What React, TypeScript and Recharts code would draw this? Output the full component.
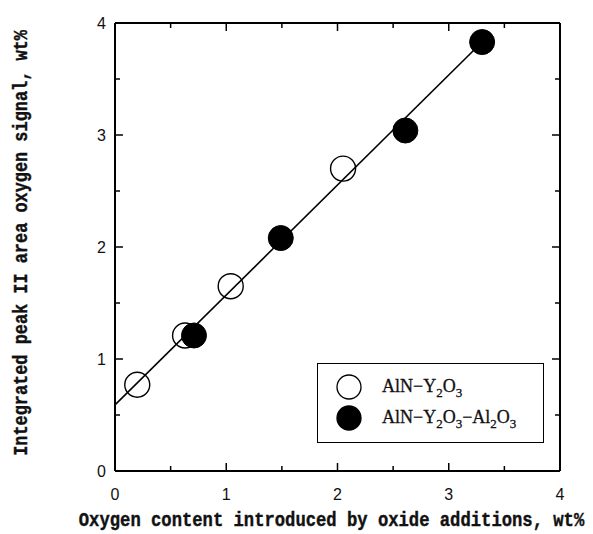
import React from 'react';
import { ScatterChart, Scatter, XAxis, YAxis, ReferenceLine, Legend } from 'recharts';

// ---- data ----
const openX = [0.2, 0.63, 1.04, 2.05];
const openY = [0.77, 1.21, 1.65, 2.7];
const filledX = [0.71, 1.49, 2.61, 3.3];
const filledY = [1.21, 2.08, 3.04, 3.83];
const fitX = [0, 3.3];
const fitY = [0.59, 3.83];
const xTicks = [0, 0.5, 1, 1.5, 2, 2.5, 3, 3.5, 4];
const yTicks = [0, 0.5, 1, 1.5, 2, 2.5, 3, 3.5, 4];
const seriesNames = ['AlN−Y2O3', 'AlN−Y2O3−Al2O3'];
const xTitle = 'Oxygen content introduced by oxide additions, wt%';
const yTitle = 'Integrated peak II area oxygen signal, wt%';

const openData = openX.map((x, i) => ({ x, y: openY[i] }));
const filledData = filledX.map((x, i) => ({ x, y: filledY[i] }));

const MONO = '"Liberation Mono", "Courier New", monospace';
const SANS = '"Liberation Sans", Arial, sans-serif';
const SERIF = '"Liberation Serif", "Times New Roman", serif';

const makeTick = (side: string) => (props: any) => {
  const { x, y, payload } = props;
  const v = payload.value;
  const major = Number.isInteger(v);
  const len = major ? 8 : 5;
  let line: any = null;
  let label: any = null;
  if (side === 'bottom') {
    line = <line x1={x} y1={y} x2={x} y2={y - len} stroke="#000" strokeWidth={1.5} />;
    if (major)
      label = (
        <text x={x} y={y + 29} textAnchor="middle" fontFamily={SANS} fontSize={16} fill="#111">
          {v}
        </text>
      );
  } else if (side === 'top') {
    line = <line x1={x} y1={y} x2={x} y2={y + len} stroke="#000" strokeWidth={1.5} />;
  } else if (side === 'left') {
    line = <line x1={x} y1={y} x2={x + len} y2={y} stroke="#000" strokeWidth={1.5} />;
    if (major)
      label = (
        <text x={x - 9} y={y + 6} textAnchor="end" fontFamily={SANS} fontSize={16} fill="#111">
          {v}
        </text>
      );
  } else {
    line = <line x1={x} y1={y} x2={x - len} y2={y} stroke="#000" strokeWidth={1.5} />;
  }
  return (
    <g>
      {line}
      {label}
    </g>
  );
};

const XTitle = (props: any) => {
  const vb = props.viewBox || { x: 115, y: 471, width: 445, height: 40 };
  const cx = vb.x + vb.width / 2 - 6;
  const cy = vb.y + 55;
  return (
    <text
      x={0}
      y={0}
      transform={`translate(${cx} ${cy}) scale(1 1.2)`}
      textAnchor="middle"
      fontFamily={MONO}
      fontWeight="bold"
      fontSize={17.2}
      fill="#111"
      stroke="#111"
      strokeWidth={0.35}
    >
      {xTitle}
    </text>
  );
};

const YTitle = (props: any) => {
  const vb = props.viewBox || { x: 55, y: 23, width: 60, height: 448 };
  const cx = 27;
  const cy = vb.y + vb.height / 2 - 4;
  return (
    <text
      x={0}
      y={0}
      transform={`translate(${cx} ${cy}) rotate(-90) scale(1 1.2)`}
      textAnchor="middle"
      fontFamily={MONO}
      fontWeight="bold"
      fontSize={16.9}
      fill="#111"
      stroke="#111"
      strokeWidth={0.35}
    >
      {yTitle}
    </text>
  );
};

const Chem = ({ s }: { s: string }) => {
  const parts = s.split(/(\d)/).filter((p) => p.length > 0);
  return (
    <span>
      {parts.map((p, i) =>
        /\d/.test(p) ? (
          <span key={i} style={{ fontSize: 13, position: 'relative', top: 5 }}>
            {p}
          </span>
        ) : (
          <span key={i}>{p}</span>
        )
      )}
    </span>
  );
};

const LegendBox = () => (
  <div
    style={{
      width: 227,
      height: 80,
      border: '1.5px solid #000',
      background: '#fff',
      boxSizing: 'border-box',
      position: 'relative',
      fontFamily: SERIF,
      fontSize: 18,
      color: '#111',
      WebkitTextStroke: '0.3px #111',
    }}
  >
    {seriesNames.map((name, i) => (
      <div key={name} style={{ position: 'absolute', left: 0, top: 10 + i * 31, height: 26, width: 227 }}>
        <svg width={28} height={28} style={{ position: 'absolute', left: 17, top: -1 }}>
          <circle cx={14} cy={14} r={12} fill={i === 0 ? '#fff' : '#000'} stroke="#000" strokeWidth={1.3} />
        </svg>
        <div style={{ position: 'absolute', left: 64, top: 1, whiteSpace: 'nowrap', lineHeight: '22px' }}>
          <Chem s={name} />
        </div>
      </div>
    ))}
  </div>
);

export default function App() {
  return (
    <div style={{ position: 'absolute', left: 0, top: 0, width: 593, height: 534, background: '#fff' }}>
      <ScatterChart width={593} height={534} margin={{ top: 21, right: 31, bottom: 23, left: 55 }}>
        <XAxis
          xAxisId="b"
          dataKey="x"
          type="number"
          domain={[0, 4]}
          ticks={xTicks}
          interval={0}
          height={40}
          tickSize={0}
          tickMargin={0}
          tickLine={false}
          axisLine={{ stroke: '#000', strokeWidth: 2 }}
          tick={makeTick('bottom')}
          label={XTitle}
          allowDataOverflow
        />
        <XAxis
          xAxisId="t"
          orientation="top"
          dataKey="x"
          type="number"
          domain={[0, 4]}
          ticks={xTicks}
          interval={0}
          height={2}
          tickSize={0}
          tickMargin={0}
          tickLine={false}
          axisLine={{ stroke: '#000', strokeWidth: 2 }}
          tick={makeTick('top')}
          allowDataOverflow
        />
        <YAxis
          yAxisId="l"
          dataKey="y"
          type="number"
          domain={[0, 4]}
          ticks={yTicks}
          interval={0}
          width={60}
          tickSize={0}
          tickMargin={0}
          tickLine={false}
          axisLine={{ stroke: '#000', strokeWidth: 2 }}
          tick={makeTick('left')}
          label={YTitle}
          allowDataOverflow
        />
        <YAxis
          yAxisId="r"
          orientation="right"
          dataKey="y"
          type="number"
          domain={[0, 4]}
          ticks={yTicks}
          interval={0}
          width={2}
          tickSize={0}
          tickMargin={0}
          tickLine={false}
          axisLine={{ stroke: '#000', strokeWidth: 2 }}
          tick={makeTick('right')}
          allowDataOverflow
        />
        <ReferenceLine
          xAxisId="b"
          yAxisId="l"
          segment={[
            { x: fitX[0], y: fitY[0] },
            { x: fitX[1], y: fitY[1] },
          ]}
          stroke="#000"
          strokeWidth={1.6}
        />
        <Scatter
          name={seriesNames[0]}
          xAxisId="b"
          yAxisId="l"
          data={openData}
          isAnimationActive={false}
          shape={(p: any) => <circle cx={p.cx} cy={p.cy} r={12.5} fill="none" stroke="#000" strokeWidth={1.4} />}
        />
        <Scatter
          name={seriesNames[1]}
          xAxisId="b"
          yAxisId="l"
          data={filledData}
          isAnimationActive={false}
          shape={(p: any) => <circle cx={p.cx} cy={p.cy} r={12.5} fill="#000" stroke="#000" strokeWidth={1} />}
        />
        <Legend
          layout="vertical"
          align="center"
          verticalAlign="middle"
          content={() => <LegendBox />}
          wrapperStyle={{ left: 317, top: 363, width: 227, height: 80 }}
        />
      </ScatterChart>
    </div>
  );
}
